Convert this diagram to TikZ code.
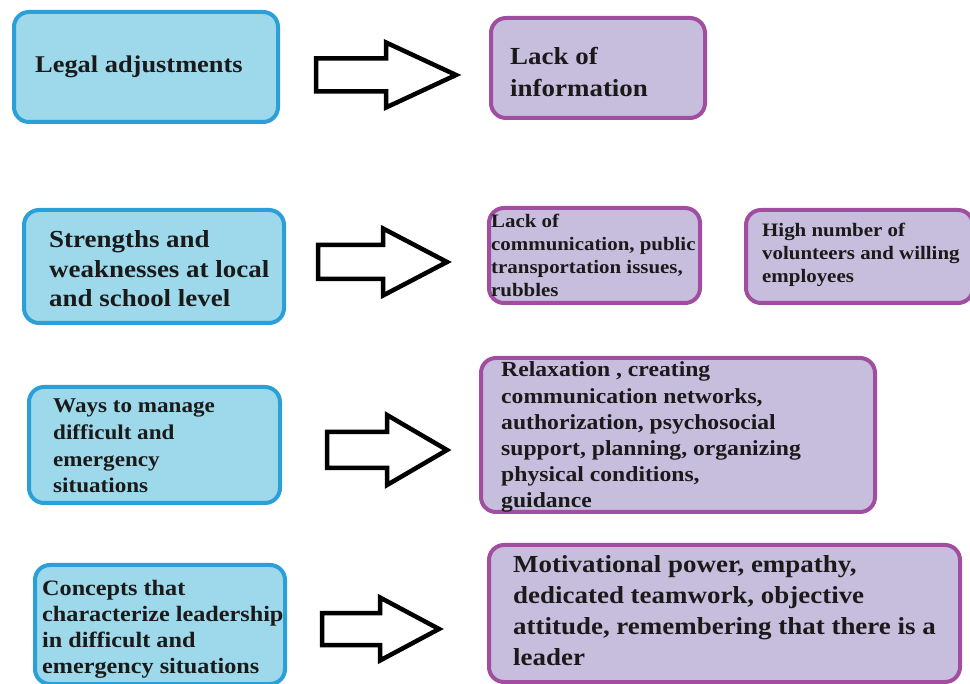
\documentclass[tikz,border=0pt]{standalone}
\usepackage{fontspec}
\setmainfont{Liberation Serif}[FakeStretch=1.1]
\definecolor{bluefill}{HTML}{9DD9EA}
\definecolor{blueline}{HTML}{2A9FD8}
\definecolor{violetfill}{HTML}{C7BEDE}
\definecolor{violetline}{HTML}{A24EA0}
\definecolor{ink}{HTML}{1A1A1A}
\tikzset{
  causebox/.style={draw=blueline, fill=bluefill, line width=4pt, rounded corners=15pt,
    rectangle, inner sep=0pt},
  effectbox/.style={draw=violetline, fill=violetfill, line width=4pt, rounded corners=15pt,
    rectangle, inner sep=0pt},
  % text blocks are placed by the baseline of their last line
  boxtext/.style 2 args={anchor=base west, align=left, inner sep=0pt, text=ink,
    font=\bfseries\fontsize{#1}{#2}\selectfont},
  blockarrow/.style={draw=black, fill=white, line width=4.5pt, line join=miter}
}
% block arrow: start x, centre y, shaft half-height, head x, head half-height, tip x
\newcommand\fatarrow[6]{%
  \draw[blockarrow] (#1,#2-#3) -- (#4,#2-#3) -- (#4,#2-#5) -- (#6,#2)
    -- (#4,#2+#5) -- (#4,#2+#3) -- (#1,#2+#3) -- cycle;}
\begin{document}
\begin{tikzpicture}[x=1pt,y=-1pt]
\useasboundingbox (0,0) rectangle (970,684);
\clip (0,0) rectangle (970,684);

% row 1
\node[causebox, minimum width=264pt, minimum height=110pt] (b1) at (146,67) {};
\node[effectbox, minimum width=214pt, minimum height=100pt] (e1) at (598,68) {};
\node[boxtext={24pt}{30pt}] (tb1) at (35,73) {Legal adjustments};
\node[boxtext={24.5pt}{32pt}] (te1) at (510,97) {Lack of\\information};
\fatarrow{316}{75}{16.5}{386}{32.5}{456}

% row 2
\node[causebox, minimum width=260pt, minimum height=113pt] (b2) at (154,266.5) {};
\node[effectbox, minimum width=211pt, minimum height=95pt] (e2a) at (594.5,255.5) {};
\node[effectbox, minimum width=227pt, minimum height=93pt] (e2b) at (859.5,256.5) {};
\node[boxtext={24.5pt}{29.5pt}] (tb2) at (49,307)
  {Strengths and\\weaknesses at local\\and school level};
\node[boxtext={19pt}{23pt}] (te2a) at (491,297)
  {Lack of\\communication, public\\transportation issues,\\rubbles};
\node[boxtext={19pt}{23pt}] (te2b) at (762,283)
  {High number of\\volunteers and willing\\employees};
\fatarrow{318}{262}{17}{383}{33.5}{447}

% row 3
\node[causebox, minimum width=251pt, minimum height=116pt] (b3) at (154.5,445) {};
\node[effectbox, minimum width=394pt, minimum height=154pt] (e3) at (678,435) {};
\node[boxtext={21pt}{26.7pt}] (tb3) at (53,493)
  {Ways to manage\\difficult and\\emergency\\situations};
\node[boxtext={21.5pt}{26.2pt}] (te3) at (501,508)
  {Relaxation , creating\\communication networks,\\authorization, psychosocial\\support, planning, organizing\\physical conditions,\\guidance};
\fatarrow{327}{450}{18}{387}{35}{447}

% row 4
\node[causebox, minimum width=250pt, minimum height=119pt] (b4) at (160,624.5) {};
\node[effectbox, minimum width=471pt, minimum height=137pt] (e4) at (724.5,613.5) {};
\node[boxtext={22pt}{26pt}] (tb4) at (42,673)
  {Concepts that\\characterize leadership\\in difficult and\\emergency situations};
\node[boxtext={24.5pt}{30.7pt}] (te4) at (513,665)
  {Motivational power, empathy,\\dedicated teamwork, objective\\attitude, remembering that there is a\\leader};
\fatarrow{322}{629}{16}{380}{31.5}{439}
\end{tikzpicture}
\end{document}
